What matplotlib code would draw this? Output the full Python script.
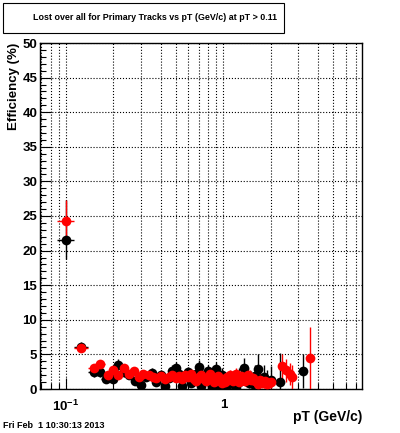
import numpy as np
import matplotlib
matplotlib.use("Agg")
import matplotlib.pyplot as plt
from matplotlib.patches import Rectangle
from matplotlib.ticker import FixedLocator, NullFormatter

plt.rcParams['font.family'] = ['Liberation Sans', 'DejaVu Sans']
plt.rcParams['font.weight'] = 'bold'
plt.rcParams['mathtext.fontset'] = 'custom'
plt.rcParams['mathtext.bf'] = 'Liberation Sans:bold'
plt.rcParams['mathtext.rm'] = 'Liberation Sans:bold'

# half bin width of the pT histogram (GeV/c)
bin_half = 0.0125

# black series
pt_black = [0.1, 0.125, 0.15, 0.165, 0.18, 0.2, 0.215, 0.235, 0.25, 0.275,
            0.3, 0.325, 0.35, 0.375, 0.4, 0.425, 0.45, 0.475, 0.5, 0.525,
            0.55, 0.575, 0.6, 0.625, 0.65, 0.675, 0.7, 0.725, 0.75, 0.775,
            0.8, 0.825, 0.85, 0.875, 0.9, 0.925, 0.95, 0.975, 1.0, 1.05,
            1.1, 1.15, 1.2, 1.25, 1.3, 1.35, 1.4, 1.45, 1.5, 1.55,
            1.6, 1.65, 1.7, 1.8, 1.9, 2.0, 2.3, 3.2]
eff_black = [21.5, 6.0, 2.4, 2.5, 1.5, 1.4, 3.5, 2.4, 2.0, 1.2,
             0.6, 1.8, 2.3, 1.0, 2.0, 0.5, 1.6, 2.6, 3.0, 2.2,
             0.4, 1.8, 2.4, 0.8, 1.5, 2.2, 3.2, 0.5, 2.0, 1.4,
             2.6, 1.0, 0.3, 1.8, 2.9, 1.2, 0.6, 2.0, 1.3, 0.5,
             1.6, 0.8, 0.3, 1.8, 1.1, 3.0, 1.5, 0.9, 1.3, 0.7,
             1.9, 2.9, 1.2, 1.7, 1.0, 1.3, 1.0, 2.6]
errlo_black = [2.7, 0.6, 0.7, 0.7, 0.6, 0.6, 0.8, 0.7, 0.6, 0.5,
               0.4, 0.6, 0.7, 0.5, 0.6, 0.4, 0.6, 0.7, 0.8, 0.7,
               0.3, 0.6, 0.7, 0.5, 0.6, 0.7, 0.9, 0.4, 0.7, 0.6,
               0.8, 0.6, 0.3, 0.7, 0.9, 0.6, 0.5, 0.8, 0.7, 0.5,
               0.8, 0.6, 0.3, 0.9, 0.7, 1.2, 0.9, 0.7, 0.9, 0.6,
               1.2, 1.8, 1.0, 1.2, 1.0, 1.0, 1.0, 2.5]
errhi_black = [5.8, 0.8, 0.8, 0.8, 0.7, 0.7, 0.9, 0.8, 0.7, 0.6,
               0.6, 0.7, 0.8, 0.6, 0.7, 0.6, 0.7, 0.8, 0.9, 0.8,
               0.5, 0.7, 0.8, 0.6, 0.7, 0.8, 1.0, 0.6, 0.8, 0.7,
               0.9, 0.8, 0.6, 0.9, 1.0, 0.8, 0.8, 1.0, 0.9, 0.8,
               1.0, 0.9, 0.8, 1.2, 1.0, 1.5, 1.2, 1.1, 1.3, 1.1,
               1.6, 2.2, 1.6, 1.8, 1.8, 2.0, 4.2, 2.5]

# red series
pt_red = [0.1, 0.125, 0.15, 0.165, 0.185, 0.2, 0.215, 0.235, 0.25, 0.27,
          0.29, 0.31, 0.335, 0.355, 0.375, 0.4, 0.425, 0.45, 0.475, 0.5,
          0.525, 0.55, 0.575, 0.6, 0.625, 0.65, 0.675, 0.7, 0.725, 0.75,
          0.775, 0.8, 0.825, 0.85, 0.875, 0.9, 0.925, 0.95, 0.975, 1.0,
          1.025, 1.05, 1.075, 1.1, 1.125, 1.15, 1.175, 1.2, 1.225, 1.25,
          1.275, 1.3, 1.325, 1.35, 1.375, 1.4, 1.425, 1.45, 1.475, 1.5,
          1.55, 1.6, 1.65, 1.7, 1.75, 1.8, 1.85, 1.9, 1.95, 2.0,
          2.35, 2.5, 2.65, 2.75, 3.575]
eff_red = [24.3, 5.9, 3.0, 3.6, 2.0, 2.7, 2.0, 3.0, 2.2, 2.6,
           1.7, 2.2, 2.0, 1.8, 1.6, 1.9, 1.5, 1.8, 2.0, 1.6,
           1.9, 1.4, 2.0, 1.7, 2.1, 1.5, 1.2, 1.8, 2.0, 1.4,
           1.1, 1.6, 2.2, 1.8, 1.0, 1.4, 1.9, 1.2, 0.8, 1.5,
           1.0, 1.7, 1.3, 2.0, 1.6, 1.1, 1.8, 2.2, 1.4, 1.0,
           1.6, 1.9, 1.3, 1.7, 1.2, 1.5, 2.0, 1.4, 1.8, 1.3,
           1.6, 1.1, 0.7, 1.3, 1.0, 0.8, 1.2, 0.7, 0.9, 1.0,
           3.3, 2.7, 2.2, 1.7, 4.5]
err_red = [3.0, 0.6, 0.5, 0.6, 0.5, 0.5, 0.5, 0.6, 0.5, 0.5,
           0.4, 0.5, 0.5, 0.4, 0.4, 0.5, 0.4, 0.5, 0.5, 0.5,
           0.5, 0.4, 0.5, 0.5, 0.6, 0.5, 0.4, 0.6, 0.6, 0.5,
           0.5, 0.6, 0.7, 0.6, 0.5, 0.6, 0.7, 0.6, 0.5, 0.7,
           0.6, 0.8, 0.7, 0.8, 0.7, 0.6, 0.8, 0.9, 0.7, 0.6,
           0.8, 0.9, 0.7, 0.9, 0.7, 0.8, 1.0, 0.8, 1.0, 0.8,
           0.9, 0.8, 0.6, 0.9, 0.8, 0.7, 0.9, 0.7, 0.8, 0.9,
           1.8, 1.7, 1.6, 1.7, 4.5]

title_text = "Lost over all for Primary Tracks vs pT (GeV/c) at pT > 0.11"
date_text = "Fri Feb  1 10:30:13 2013"


def main():
    fig = plt.figure(figsize=(4.0, 4.33), dpi=100)
    ax = fig.add_axes([40 / 400, 1 - 389 / 433, 322 / 400, 346 / 433])

    for pt, eff, lo, hi, col in [
            (pt_black, eff_black, errlo_black, errhi_black, 'black'),
            (pt_red, eff_red, err_red, err_red, 'red')]:
        pt = np.array(pt)
        eff = np.array(eff)
        lo = np.minimum(np.array(lo), eff)
        hi = np.array(hi)
        ax.errorbar(pt, eff, yerr=[lo, hi], xerr=bin_half, fmt='o', color=col,
                    ms=7, mew=0, elinewidth=1.0, capsize=0, zorder=3)

    ax.set_xscale('log')
    ax.set_xlim(0.0685, 7.6)
    ax.set_ylim(0, 50)

    # ROOT style ticks: inside, bottom and left only
    ax.xaxis.set_major_locator(FixedLocator([0.1, 1.0]))
    ax.set_xticklabels([r'$\mathbf{10^{-1}}$', '1'])
    minor_x = [0.07, 0.08, 0.09] + [0.1 * k for k in range(2, 10)] + [float(k) for k in range(2, 8)]
    ax.xaxis.set_minor_locator(FixedLocator(minor_x))
    ax.xaxis.set_minor_formatter(NullFormatter())
    ax.set_yticks(np.arange(0, 51, 5))
    ax.yaxis.set_minor_locator(FixedLocator(np.arange(0, 51, 1)))
    ax.tick_params(axis='both', which='major', direction='in', length=8, width=0.8,
                   labelsize=9.5, top=False, right=False)
    ax.tick_params(axis='both', which='minor', direction='in', length=4, width=0.8,
                   top=False, right=False)
    ax.tick_params(axis='x', which='major', pad=7)
    ax.tick_params(axis='y', which='major', pad=2)
    for lab in ax.get_yticklabels() + ax.get_xticklabels():
        lab.set_fontweight('bold')

    ax.grid(True, which='major', axis='y', linestyle=':', color='black', linewidth=0.8)
    ax.grid(True, which='both', axis='x', linestyle=':', color='black', linewidth=0.8)
    for sp in ax.spines.values():
        sp.set_linewidth(1.0)

    # title box
    fig.patches.append(Rectangle((3 / 400, 1 - 33 / 433), 281 / 400, 30 / 433,
                                 transform=fig.transFigure, facecolor='white',
                                 edgecolor='black', linewidth=0.8))
    fig.text(33 / 400, 1 - 17 / 433, title_text, ha='left', va='center',
             fontsize=6.4, fontweight='bold')

    fig.text(14 / 400, 1 - 43 / 433, "Efficiency (%)", rotation=90, ha='center',
             va='top', fontsize=9.5, fontweight='bold')
    fig.text(362 / 400, 1 - 417 / 433, "pT (GeV/c)", ha='right', va='center',
             fontsize=10, fontweight='bold')
    fig.text(3 / 400, 1 - 425 / 433, date_text, ha='left', va='center',
             fontsize=6.5, fontweight='bold')

    fig.savefig("out.png", dpi=100)


if __name__ == "__main__":
    main()
